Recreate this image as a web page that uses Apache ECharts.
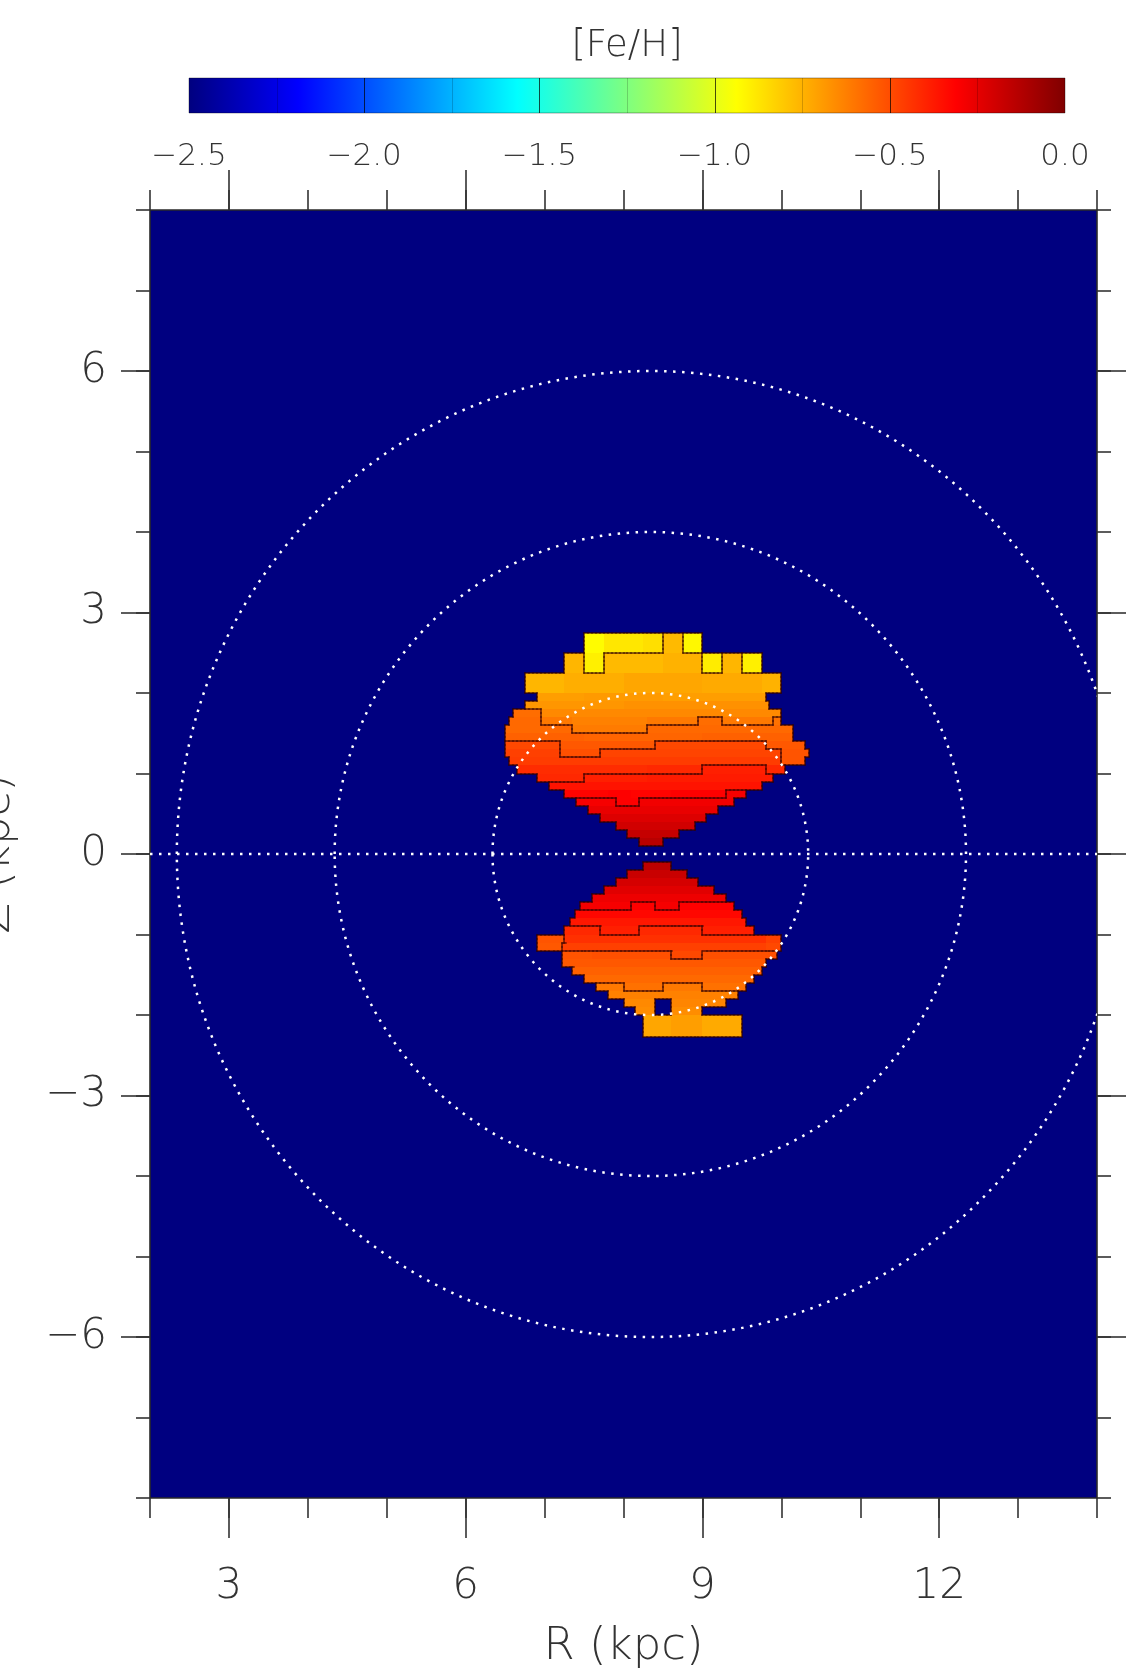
<!DOCTYPE html>
<html>
<head>
<meta charset="utf-8">
<title>[Fe/H] map in the R–Z plane</title>
<script src="https://cdn.jsdelivr.net/npm/echarts@6/dist/echarts.min.js"></script>
<style>
  html, body { margin: 0; padding: 0; background: #ffffff; }
  #chart { width: 1127px; height: 1678px; }
</style>
</head>
<body>
<div id="chart"></div>
<script>
// Mean [Fe/H] per (R, Z) bin. Each row: [zLow, zHigh, [[rLow, rHigh, feh], ...]]
const upperRows = [
  [2.50, 2.75, [[7.50, 7.75, -0.93], [7.75, 8.25, -0.88], [8.25, 8.50, -0.86], [8.50, 8.75, -0.77], [8.75, 9.00, -0.92]]],
  [2.25, 2.50, [[7.25, 7.50, -0.76], [7.50, 7.75, -0.90], [7.75, 8.50, -0.77], [8.50, 9.00, -0.75], [9.00, 9.25, -0.89], [9.25, 9.50, -0.76], [9.50, 9.75, -0.90]]],
  [2.00, 2.25, [[6.75, 7.25, -0.76], [7.25, 8.00, -0.74], [8.00, 9.00, -0.72], [9.00, 9.75, -0.73], [9.75, 10.00, -0.75]]],
  [1.90, 2.00, [[6.90, 7.50, -0.70], [7.50, 8.50, -0.69], [8.50, 9.80, -0.70]]],
  [1.80, 1.90, [[6.75, 8.00, -0.68], [8.00, 9.85, -0.67]]],
  [1.70, 1.80, [[6.60, 6.95, -0.58], [6.95, 10.00, -0.65]]],
  [1.60, 1.70, [[6.55, 6.95, -0.57], [6.95, 7.35, -0.61], [7.35, 8.30, -0.63], [8.30, 8.95, -0.61], [8.95, 9.25, -0.58], [9.25, 9.90, -0.61], [9.90, 10.00, -0.59]]],
  [1.50, 1.60, [[6.50, 7.35, -0.57], [7.35, 8.30, -0.615], [8.30, 10.15, -0.57]]],
  [1.40, 1.50, [[6.50, 7.50, -0.55], [7.50, 9.00, -0.56], [9.00, 10.15, -0.55]]],
  [1.30, 1.40, [[6.50, 7.20, -0.49], [7.20, 8.40, -0.53], [8.40, 9.80, -0.49], [9.80, 10.30, -0.53]]],
  [1.20, 1.30, [[6.50, 7.20, -0.47], [7.20, 7.70, -0.51], [7.70, 10.00, -0.48], [10.00, 10.35, -0.52]]],
  [1.10, 1.20, [[6.55, 10.00, -0.46], [10.00, 10.30, -0.52]]],
  [1.00, 1.10, [[6.65, 8.30, -0.42], [8.30, 9.00, -0.41], [9.00, 9.80, -0.39], [9.80, 10.05, -0.41]]],
  [0.90, 1.00, [[6.90, 7.50, -0.41], [7.50, 8.30, -0.39], [8.30, 9.90, -0.38]]],
  [0.80, 0.90, [[7.05, 9.75, -0.36]]],
  [0.70, 0.80, [[7.25, 7.80, -0.32], [7.80, 8.10, -0.31], [8.10, 8.60, -0.32], [8.60, 9.30, -0.31], [9.30, 9.55, -0.29]]],
  [0.60, 0.70, [[7.40, 7.90, -0.29], [7.90, 8.20, -0.31], [8.20, 9.40, -0.28]]],
  [0.50, 0.60, [[7.55, 9.20, -0.26]]],
  [0.40, 0.50, [[7.70, 9.05, -0.23]]],
  [0.30, 0.40, [[7.90, 8.90, -0.20]]],
  [0.20, 0.30, [[8.05, 8.70, -0.17]]],
  [0.10, 0.20, [[8.20, 8.50, -0.14]]]
];

const lowerRows = [
  [-0.20, -0.10, [[8.25, 8.60, -0.15]]],
  [-0.30, -0.20, [[8.05, 8.80, -0.18]]],
  [-0.40, -0.30, [[7.90, 8.95, -0.21]]],
  [-0.50, -0.40, [[7.75, 9.15, -0.24]]],
  [-0.60, -0.50, [[7.60, 9.30, -0.27]]],
  [-0.70, -0.60, [[7.45, 8.10, -0.29], [8.10, 8.40, -0.31], [8.40, 8.70, -0.29], [8.70, 9.40, -0.31]]],
  [-0.80, -0.70, [[7.38, 9.50, -0.33]]],
  [-0.90, -0.80, [[7.32, 9.55, -0.37]]],
  [-1.00, -0.90, [[7.25, 7.70, -0.41], [7.70, 8.20, -0.39], [8.20, 9.00, -0.41], [9.00, 9.65, -0.39]]],
  [-1.10, -1.00, [[6.90, 7.25, -0.52], [7.25, 9.80, -0.43], [9.80, 10.00, -0.47]]],
  [-1.20, -1.10, [[6.90, 7.22, -0.53], [7.22, 9.80, -0.47], [9.80, 10.00, -0.49]]],
  [-1.30, -1.20, [[7.22, 7.60, -0.52], [7.60, 8.60, -0.51], [8.60, 9.00, -0.49], [9.00, 9.95, -0.51]]],
  [-1.40, -1.30, [[7.22, 9.80, -0.53]]],
  [-1.50, -1.40, [[7.35, 9.75, -0.55]]],
  [-1.60, -1.50, [[7.50, 9.65, -0.57]]],
  [-1.70, -1.60, [[7.65, 8.00, -0.61], [8.00, 8.50, -0.59], [8.50, 9.00, -0.61], [9.00, 9.55, -0.59]]],
  [-1.80, -1.70, [[7.80, 9.45, -0.63]]],
  [-1.90, -1.80, [[8.00, 8.40, -0.65], [8.60, 9.30, -0.64]]],
  [-2.00, -1.90, [[8.15, 8.40, -0.66], [8.60, 9.00, -0.66]]],
  [-2.27, -2.00, [[8.25, 8.60, -0.72], [8.60, 9.00, -0.70], [9.00, 9.50, -0.73]]]
];

// Iso-[Fe/H] levels outlined on the map
const contourLevels = [-0.8, -0.6, -0.5, -0.4, -0.3];

// Axis ticks
const rMajorTicks = [3, 6, 9, 12];
const zMajorTicks = [-6, -3, 0, 3, 6];
const barMajorTicks = [-2.0, -1.5, -1.0, -0.5];
const barMinorTicks = [-2.25, -1.75, -1.25, -0.75, -0.25];

// Guide circles around the Sun (kpc) and the Galactic mid-plane
const sunR = 8.34;
const guideRadii = [2, 4, 6];
const midplane = [[2, 0], [14, 0]];

// Colour table for [Fe/H] from -2.5 to 0.0
const jetColors = ['#00007f', '#0000ff', '#007fff', '#00ffff', '#7fff7f',
                   '#ffff00', '#ff7f00', '#ff0000', '#7f0000'];

// ---- build rectangle list and level boundaries ----
const cells = [];
[...upperRows, ...lowerRows].forEach(([z0, z1, segs]) => {
  segs.forEach(([r0, r1, v]) => cells.push([r0, r1, z0, z1, v]));
});
const levelOf = v => contourLevels.filter(l => v >= l).length;
function levelAt(r, z) {
  for (const c of cells) {
    if (r >= c[0] && r < c[1] && z >= c[2] && z < c[3]) return levelOf(c[4]);
  }
  return -1;
}
const edges = [];
const eps = 1e-4, step = 0.05;
cells.forEach(c => {
  const L = levelOf(c[4]);
  const [r0, r1, z0, z1] = c;
  const nr = Math.max(1, Math.round((r1 - r0) / step));
  const nz = Math.max(1, Math.round((z1 - z0) / step));
  for (let i = 0; i < nr; i++) {
    const a = r0 + (r1 - r0) * i / nr, b = r0 + (r1 - r0) * (i + 1) / nr, m = (a + b) / 2;
    if (levelAt(m, z1 + eps) < L) edges.push([a, z1, b, z1]);
    if (levelAt(m, z0 - eps) < L) edges.push([a, z0, b, z0]);
  }
  for (let j = 0; j < nz; j++) {
    const a = z0 + (z1 - z0) * j / nz, b = z0 + (z1 - z0) * (j + 1) / nz, m = (a + b) / 2;
    if (levelAt(r0 - eps, m) < L) edges.push([r0, a, r0, b]);
    if (levelAt(r1 + eps, m) < L) edges.push([r1, a, r1, b]);
  }
});

const FONT = 'DejaVu Sans';
const TEXT = '#333333';
const frameLine = { color: '#2a2a2a', width: 1.6 };
const tickLine = { color: '#333333', width: 1.6 };
const minus = s => String(s).replace('-', '\u2212');

const chart = echarts.init(document.getElementById('chart'), null, { renderer: 'canvas' });

function clipRect(params) {
  const cs = params.coordSys;
  return { type: 'rect', shape: { x: cs.x, y: cs.y, width: cs.width, height: cs.height } };
}

// shared pieces of the frame axes
const frameX = (pos, tickLen, extra) => Object.assign({
  gridIndex: 0, type: 'value', min: 2, max: 14, position: pos,
  axisLine: { show: false, onZero: false }, splitLine: { show: false },
  axisLabel: { show: false }, axisTick: { length: tickLen, lineStyle: tickLine }
}, extra);
const frameY = (pos, tickLen, extra) => Object.assign({
  gridIndex: 0, type: 'value', min: -8, max: 8, position: pos,
  axisLine: { show: false, onZero: false }, splitLine: { show: false },
  axisLabel: { show: false }, axisTick: { length: tickLen, lineStyle: tickLine }
}, extra);

chart.setOption({
  animation: false,
  backgroundColor: '#ffffff',
  graphic: [{
    type: 'text', x: 627, y: 46,
    style: { text: '[Fe/H]', fontFamily: FONT, fontWeight: 200, fontSize: 37, fill: TEXT,
             align: 'center', verticalAlign: 'middle' }
  }],
  grid: [
    { left: 150, top: 210, width: 947, height: 1288, show: true, backgroundColor: '#000080',
      borderWidth: 0, outerBoundsMode: 'none', containLabel: false },
    { left: 189, top: 78, width: 876, height: 35, show: false, outerBoundsMode: 'none', containLabel: false }
  ],
  visualMap: {
    type: 'continuous', show: false, min: -2.5, max: 0, dimension: 4, seriesIndex: 0,
    inRange: { color: jetColors }
  },
  xAxis: [
    frameX('bottom', 20, { interval: 1, axisLine: { show: true, onZero: false, lineStyle: frameLine } }),
    frameX('bottom', 40, {
      axisTick: { customValues: rMajorTicks, length: 40, lineStyle: tickLine },
      axisLabel: { customValues: rMajorTicks, margin: 68, fontFamily: FONT, fontWeight: 200,
                   fontSize: 42, color: TEXT },
      name: 'R (kpc)', nameLocation: 'middle', nameGap: 127, nameMoveOverlap: false,
      nameTextStyle: { fontFamily: FONT, fontWeight: 200, fontSize: 45, color: TEXT } }),
    frameX('top', 20, { interval: 1, axisLine: { show: true, onZero: false, lineStyle: frameLine } }),
    frameX('top', 40, { axisTick: { customValues: rMajorTicks, length: 40, lineStyle: tickLine } }),
    { gridIndex: 1, type: 'value', min: -2.5, max: 0, interval: 0.5, position: 'bottom',
      axisLine: { show: false, onZero: false }, axisTick: { show: false }, splitLine: { show: false },
      axisLabel: { margin: 28, fontFamily: FONT, fontWeight: 200, fontSize: 31, color: TEXT,
                   formatter: v => minus(v.toFixed(1)).replace('\u22120.0', '0.0') } }
  ],
  yAxis: [
    frameY('left', 14, { interval: 1, axisLine: { show: true, onZero: false, lineStyle: frameLine },
      name: 'Z (kpc)', nameLocation: 'middle', nameRotate: 90, nameGap: 130, nameMoveOverlap: false,
      nameTextStyle: { fontFamily: FONT, fontWeight: 200, fontSize: 45, color: TEXT } }),
    frameY('left', 29, {
      axisTick: { customValues: zMajorTicks, length: 29, lineStyle: tickLine },
      axisLabel: { customValues: zMajorTicks, margin: 43, fontFamily: FONT, fontWeight: 200,
                   fontSize: 42, color: TEXT, formatter: v => minus(v) } }),
    frameY('right', 14, { interval: 1, axisLine: { show: true, onZero: false, lineStyle: frameLine } }),
    frameY('right', 29, { axisTick: { customValues: zMajorTicks, length: 29, lineStyle: tickLine } }),
    { gridIndex: 1, type: 'value', min: 0, max: 1, show: false }
  ],
  series: [
    { // [Fe/H] bins
      type: 'custom', coordinateSystem: 'cartesian2d', xAxisIndex: 0, yAxisIndex: 0,
      data: cells, z: 2,
      renderItem: (params, api) => {
        const p0 = api.coord([api.value(0), api.value(3)]);
        const p1 = api.coord([api.value(1), api.value(2)]);
        const x0 = Math.round(p0[0]), y0 = Math.round(p0[1]);
        const x1 = Math.round(p1[0]), y1 = Math.round(p1[1]);
        return { type: 'rect', shape: { x: x0, y: y0, width: x1 - x0, height: y1 - y0 },
                 style: { fill: api.visual('color') } };
      }
    },
    { // iso-[Fe/H] boundaries
      type: 'custom', coordinateSystem: 'cartesian2d', xAxisIndex: 0, yAxisIndex: 0,
      data: edges, z: 3, silent: true,
      renderItem: (params, api) => {
        const a = api.coord([api.value(0), api.value(1)]);
        const b = api.coord([api.value(2), api.value(3)]);
        return { type: 'line',
                 shape: { x1: Math.round(a[0]), y1: Math.round(a[1]), x2: Math.round(b[0]), y2: Math.round(b[1]) },
                 style: { stroke: 'rgba(50,0,0,0.8)', lineWidth: 1.4, lineCap: 'square' } };
      }
    },
    { // Galactic mid-plane
      type: 'line', xAxisIndex: 0, yAxisIndex: 0, data: midplane, z: 4,
      symbol: 'none', silent: true,
      lineStyle: { color: '#ffffff', width: 2.5, type: [2.5, 6.5] }
    },
    { // circles of constant distance from the Sun
      type: 'custom', coordinateSystem: 'cartesian2d', xAxisIndex: 0, yAxisIndex: 0,
      data: guideRadii.map(r => [sunR, 0, r]), z: 4, silent: true,
      renderItem: (params, api) => {
        const c = api.coord([api.value(0), api.value(1)]);
        const r = api.value(2);
        const rx = api.size([r, 0])[0], ry = api.size([0, r])[1];
        return { type: 'group', clipPath: clipRect(params), children: [{
          type: 'ellipse', shape: { cx: c[0], cy: c[1], rx: rx, ry: ry },
          style: { fill: null, stroke: '#ffffff', lineWidth: 2.5, lineDash: [2.5, 6.5] }
        }] };
      }
    },
    { // colour bar
      type: 'custom', coordinateSystem: 'cartesian2d', xAxisIndex: 4, yAxisIndex: 4,
      data: [[-2.5, 0]], silent: true,
      renderItem: (params, api) => {
        const p0 = api.coord([api.value(0), 1]);
        const p1 = api.coord([api.value(1), 0]);
        const grad = new echarts.graphic.LinearGradient(0, 0, 1, 0,
          jetColors.map((c, i) => ({ offset: i / (jetColors.length - 1), color: c })));
        const children = [{ type: 'rect',
          shape: { x: p0[0], y: p0[1], width: p1[0] - p0[0], height: p1[1] - p0[1] },
          style: { fill: grad, stroke: 'rgba(0,0,0,0.35)', lineWidth: 1 } }];
        barMinorTicks.forEach(v => {
          const x = Math.round(api.coord([v, 0])[0]) + 0.5;
          children.push({ type: 'line', shape: { x1: x, y1: p0[1], x2: x, y2: p1[1] },
                          style: { stroke: 'rgba(0,0,0,0.18)', lineWidth: 1 } });
        });
        barMajorTicks.forEach(v => {
          const x = Math.round(api.coord([v, 0])[0]) + 0.5;
          children.push({ type: 'line', shape: { x1: x, y1: p0[1], x2: x, y2: p1[1] },
                          style: { stroke: 'rgba(0,0,0,0.7)', lineWidth: 1 } });
        });
        return { type: 'group', children: children };
      }
    }
  ]
});
</script>
</body>
</html>
